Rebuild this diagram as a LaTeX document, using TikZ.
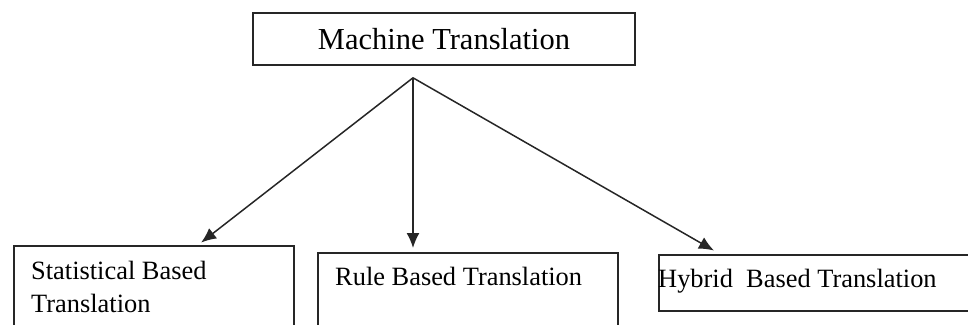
\documentclass[tikz,border=0pt]{standalone}
\usepackage{fontspec}
\setmainfont{Liberation Serif}
\usetikzlibrary{arrows.meta,calc}

\tikzset{
  frame/.style={draw=black!85, line width=1.6pt, rectangle, inner sep=0pt},
  lbl/.style={inner sep=0pt, font=\fontsize{26.4pt}{33pt}\selectfont, align=left},
  conn/.style={draw=black!85, line width=1.5pt, -{Latex[length=15pt,width=13pt]}}
}

\begin{document}
\begin{tikzpicture}[x=1pt,y=-1pt]
  \useasboundingbox (0,0) rectangle (968,324);
  \clip (0,0) rectangle (968,324);

  % root
  \node[frame, minimum width=382pt, minimum height=52pt,
        font=\fontsize{30.5pt}{36pt}\selectfont] (mt) at (444,39) {Machine Translation};

  % the three approaches (boxes run off the lower and right edges)
  \node[frame, anchor=north west, minimum width=280pt, minimum height=110pt] (stat) at (13,245) {};
  \node[frame, anchor=north west, minimum width=300pt, minimum height=110pt] (rule) at (317,252) {};
  \node[frame, anchor=north west, minimum width=330pt, minimum height=56pt] (hyb) at (658,254) {};

  % base anchor of a two-line label sits on its last line
  \node[lbl, anchor=base west] (statT) at (31,312) {Statistical Based\\Translation};
  \node[lbl, anchor=base west] (ruleT) at (335,285) {Rule Based Translation};
  \node[lbl, anchor=base west] (hybT)  at (658,287) {Hybrid~ Based Translation};

  % branching point below the root
  \coordinate (split) at ([xshift=-31pt,yshift=-12pt]mt.south);

  \draw[conn, shorten >=4pt] (split) -- ([xshift=185pt]stat.north west);
  \draw[conn, shorten >=4pt] (split) -- ([xshift=96pt]rule.north west);
  \draw[conn, shorten >=7pt] (split) -- ([xshift=62pt]hyb.north west);
\end{tikzpicture}
\end{document}
